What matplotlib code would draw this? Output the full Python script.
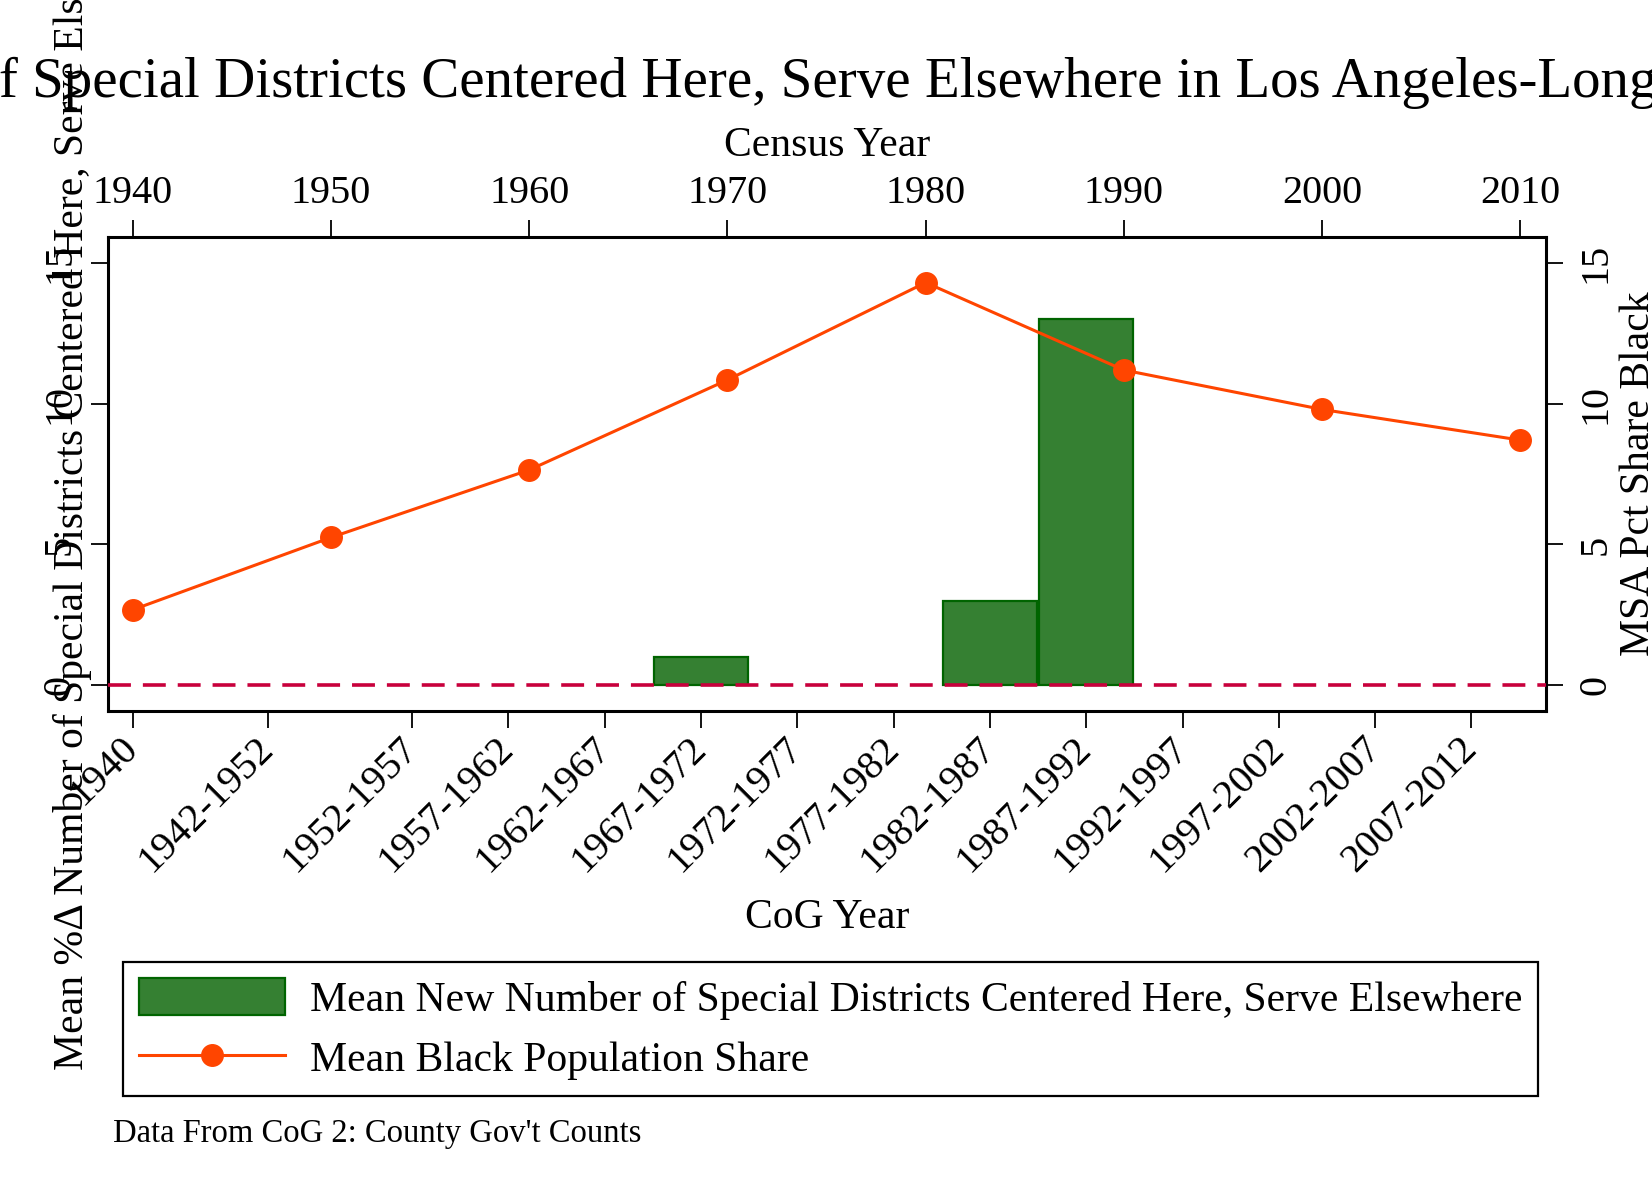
import matplotlib
matplotlib.use("Agg")
import numpy as np
import matplotlib.pyplot as plt

plt.rcParams['font.family'] = ['Liberation Serif', 'DejaVu Serif']
plt.rcParams['lines.scale_dashes'] = False

# ---------------- data ----------------
cog_labels = ["1940", "1942-1952", "1952-1957", "1957-1962", "1962-1967",
              "1967-1972", "1972-1977", "1977-1982", "1982-1987", "1987-1992",
              "1992-1997", "1997-2002", "2002-2007", "2007-2012"]
new_districts = [np.nan, np.nan, np.nan, np.nan, np.nan,
                 1.0, np.nan, np.nan, 3.0, 13.0,
                 np.nan, np.nan, np.nan, np.nan]
census_years = [1940, 1950, 1960, 1970, 1980, 1990, 2000, 2010]
black_share = [2.68, 5.25, 7.65, 10.85, 14.31, 11.20, 9.80, 8.71]
y_ticks = [0, 5, 10, 15]

title_text = ("Mean %Δ Number of Special Districts Centered Here, Serve Elsewhere "
              "in Los Angeles-Long Beach, CA")
ylabel_left = "Mean %Δ Number of Special Districts Centered Here, Serve Elsewhere"
ylabel_right = "MSA Pct Share Black"
xlabel_bottom = "CoG Year"
xlabel_top = "Census Year"
bar_label = "Mean New Number of Special Districts Centered Here, Serve Elsewhere"
line_label = "Mean Black Population Share"
note_text = "Data From CoG 2: County Gov't Counts"


def label_pos(lab):
    parts = [float(p) for p in lab.split("-")]
    return sum(parts) / len(parts)


cog_pos = [label_pos(l) for l in cog_labels]

# ---------------- styles ----------------
W, H = 1652, 1201
BAR_FC = '#358032'
BAR_EC = '#006400'
LINE_C = '#FF4500'
REF_C = '#C8003C'
TICK_FS = 29
LABEL_FS = 30
TITLE_FS = 41

fig = plt.figure(figsize=(W / 100, H / 100), dpi=100)
left, right, top, bottom = 107.5, 1546, 237, 711
rect = [left / W, 1 - bottom / H, (right - left) / W, (bottom - top) / H]
ax = fig.add_axes(rect)
ax2 = fig.add_axes(rect, facecolor='none')

ylim = (-0.92, 15.93)

# bars on bottom / left axes
ax.bar(cog_pos, new_districts, width=4.9, color=BAR_FC, edgecolor=BAR_EC,
       linewidth=1.6, label=bar_label, zorder=2)
ax.axhline(0, color=REF_C, lw=2.6, dashes=(16.5, 8.6), zorder=3)
ax.set_xlim(1938.69, 2013.37)
ax.set_ylim(*ylim)
ax.set_xticks(cog_pos)
ax.set_xticklabels(cog_labels, fontsize=TICK_FS)
for lab in ax.get_xticklabels():
    lab.set_rotation(45)
    lab.set_ha('right')
    lab.set_va('center')
    lab.set_rotation_mode('anchor')
ax.set_yticks(y_ticks)
ax.set_yticklabels([str(v) for v in y_ticks], fontsize=TICK_FS, rotation=90,
                   va='center')
ax.tick_params(axis='x', length=12, width=1.3, pad=11)
ax.tick_params(axis='y', length=12, width=1.3, pad=9)
ax.set_xlabel(xlabel_bottom, fontsize=LABEL_FS, labelpad=14)
ax.set_ylabel(ylabel_left, fontsize=LABEL_FS)
ax.yaxis.set_label_coords(-0.0108, 0.5)
for s in ax.spines.values():
    s.set_linewidth(2.2)

# line on top / right axes
ax2.plot(census_years, black_share, color=LINE_C, lw=2.2, marker='o',
         markersize=15.5, label=line_label, zorder=4)
ax2.set_xlim(1938.72, 2011.30)
ax2.set_ylim(*ylim)
ax2.xaxis.tick_top()
ax2.xaxis.set_label_position('top')
ax2.yaxis.tick_right()
ax2.yaxis.set_label_position('right')
ax2.set_xticks(census_years)
ax2.set_xticklabels([str(y) for y in census_years], fontsize=TICK_FS)
ax2.set_yticks(y_ticks)
ax2.set_yticklabels([str(v) for v in y_ticks], fontsize=TICK_FS, rotation=90,
                    va='center')
ax2.tick_params(axis='x', length=12, width=1.3, pad=6)
ax2.tick_params(axis='y', length=12, width=1.3, pad=11)
ax2.set_xlabel(xlabel_top, fontsize=LABEL_FS, labelpad=14)
ax2.set_ylabel(ylabel_right, fontsize=LABEL_FS)
ax2.yaxis.set_label_coords(1.0508, 0.5)
for s in ax2.spines.values():
    s.set_visible(False)

# legend
h1, l1 = ax.get_legend_handles_labels()
h2, l2 = ax2.get_legend_handles_labels()
leg = fig.legend(h1 + h2, l1 + l2, loc='upper left',
                 bbox_to_anchor=(123 / W, 1 - 962 / H),
                 bbox_transform=fig.transFigure, borderaxespad=0,
                 fontsize=LABEL_FS, handlelength=3.5, handleheight=1.0,
                 handletextpad=0.6, labelspacing=0.45, borderpad=0.38,
                 frameon=True, fancybox=False, framealpha=1)
leg.get_frame().set_edgecolor('black')
leg.get_frame().set_linewidth(1.6)

# note
fig.text(113 / W, 1 - 1141.7 / H, note_text, fontsize=23.5, ha='left',
         va='baseline')

# title (wider than the figure, positioned like the reference)
renderer = fig.canvas.get_renderer()
tmp = fig.text(0, 0, "Mean %Δ Number of Special", fontsize=TITLE_FS)
wpref = tmp.get_window_extent(renderer).width
tmp.remove()
fig.text((200 - wpref) / W, 1 - 97 / H, title_text, fontsize=TITLE_FS,
         ha='left', va='baseline')

fig.savefig("out.png", dpi=100)
